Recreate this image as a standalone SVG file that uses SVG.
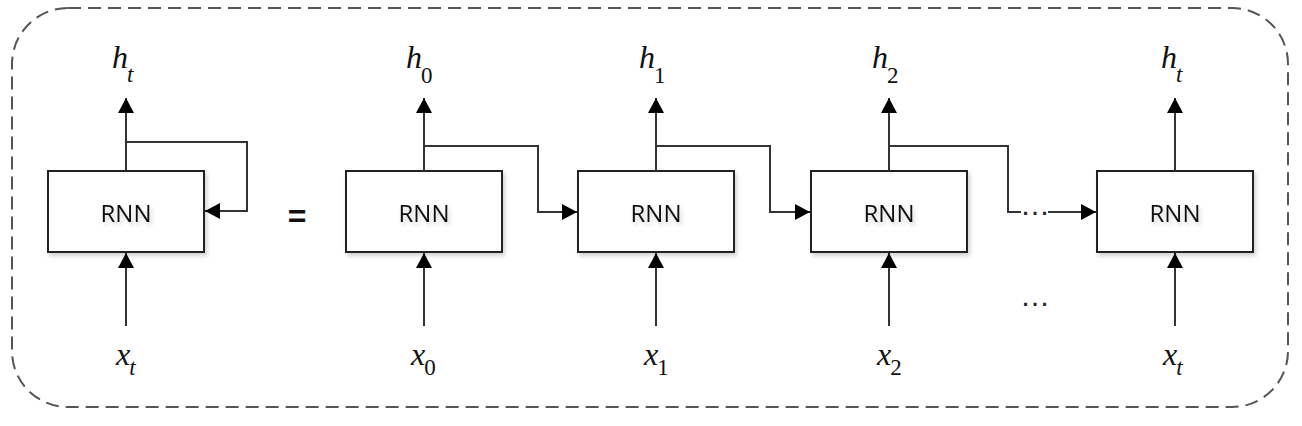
<svg xmlns="http://www.w3.org/2000/svg" width="1302" height="426" viewBox="0 0 1302 426">
<defs>
<style>
.frame{fill:none;stroke:#555;stroke-width:2;stroke-dasharray:13 7}
.box{fill:#fff;stroke:#222;stroke-width:2}
.lbl{font-family:"Open Sans","Liberation Sans",sans-serif;font-size:24px;fill:#111;text-anchor:middle}
.conn{fill:none;stroke:#333;stroke-width:2}
.var{font-family:"Liberation Serif",serif;font-style:italic;font-size:32px;fill:#111}
.sub{font-size:23px}
.num{font-style:normal}
.dots{font-family:"Liberation Sans",sans-serif;font-size:30px;fill:#222;text-anchor:middle}
</style>
<filter id="sh" x="-10%" y="-10%" width="130%" height="140%">
<feDropShadow dx="2" dy="3" stdDeviation="2" flood-color="#000" flood-opacity="0.18"/>
</filter>
<marker id="arr" markerUnits="userSpaceOnUse" markerWidth="16" markerHeight="17" refX="15" refY="8" orient="auto">
<path d="M0,0 L15,8 L0,16 Z" fill="#000"/>
</marker>
</defs>
<rect class="frame" x="12" y="8" width="1276" height="399" rx="56" ry="56"/>

<g id="node-rnn-folded">
<rect class="box" x="48" y="171" width="156" height="81" filter="url(#sh)"/>
<text class="lbl" x="126" y="222" filter="url(#sh)">RNN</text>
</g>
<g id="node-rnn-0">
<rect class="box" x="346" y="171" width="156" height="81" filter="url(#sh)"/>
<text class="lbl" x="424" y="222" filter="url(#sh)">RNN</text>
</g>
<g id="node-rnn-1">
<rect class="box" x="578" y="171" width="156" height="81" filter="url(#sh)"/>
<text class="lbl" x="656" y="222" filter="url(#sh)">RNN</text>
</g>
<g id="node-rnn-2">
<rect class="box" x="811" y="171" width="156" height="81" filter="url(#sh)"/>
<text class="lbl" x="889" y="222" filter="url(#sh)">RNN</text>
</g>
<g id="node-rnn-t">
<rect class="box" x="1097" y="171" width="156" height="81" filter="url(#sh)"/>
<text class="lbl" x="1175" y="222" filter="url(#sh)">RNN</text>
</g>

<g id="connectors">
<line class="conn" x1="126" y1="171" x2="126" y2="98" marker-end="url(#arr)"/>
<line class="conn" x1="424" y1="171" x2="424" y2="98" marker-end="url(#arr)"/>
<line class="conn" x1="656" y1="171" x2="656" y2="98" marker-end="url(#arr)"/>
<line class="conn" x1="889" y1="171" x2="889" y2="98" marker-end="url(#arr)"/>
<line class="conn" x1="1175" y1="171" x2="1175" y2="98" marker-end="url(#arr)"/>
<line class="conn" x1="126" y1="326" x2="126" y2="253" marker-end="url(#arr)"/>
<line class="conn" x1="424" y1="326" x2="424" y2="253" marker-end="url(#arr)"/>
<line class="conn" x1="656" y1="326" x2="656" y2="253" marker-end="url(#arr)"/>
<line class="conn" x1="889" y1="326" x2="889" y2="253" marker-end="url(#arr)"/>
<line class="conn" x1="1175" y1="326" x2="1175" y2="253" marker-end="url(#arr)"/>
<polyline class="conn" points="126,142 247,142 247,211 205,211" marker-end="url(#arr)"/>
<polyline class="conn" points="424,146 538,146 538,212 577,212" marker-end="url(#arr)"/>
<polyline class="conn" points="656,146 770,146 770,212 810,212" marker-end="url(#arr)"/>
<polyline class="conn" points="889,146 1008,146 1008,212 1021,212"/>
<line class="conn" x1="1048" y1="212" x2="1096" y2="212" marker-end="url(#arr)"/>
<text class="dots" x="1035" y="215">…</text>
</g>

<text x="297" y="227" font-family="Liberation Sans, sans-serif" font-weight="bold" font-size="32" fill="#111" text-anchor="middle">=</text>
<text class="dots" x="1035" y="306">…</text>

<text class="var" x="112" y="68">h<tspan class="sub" dx="-1" dy="14">t</tspan></text>
<text class="var" x="406" y="68">h<tspan class="sub num" dx="-1" dy="15">0</tspan></text>
<text class="var" x="639" y="68">h<tspan class="sub num" dx="-1" dy="15">1</tspan></text>
<text class="var" x="872" y="68">h<tspan class="sub num" dx="-1" dy="15">2</tspan></text>
<text class="var" x="1161" y="68">h<tspan class="sub" dx="-1" dy="14">t</tspan></text>

<text class="var" x="116" y="365">x<tspan class="sub" dx="-1" dy="10">t</tspan></text>
<text class="var" x="411" y="365">x<tspan class="sub num" dx="-1" dy="10">0</tspan></text>
<text class="var" x="644" y="365">x<tspan class="sub num" dx="-1" dy="10">1</tspan></text>
<text class="var" x="877" y="365">x<tspan class="sub num" dx="-1" dy="10">2</tspan></text>
<text class="var" x="1163" y="365">x<tspan class="sub" dx="-1" dy="10">t</tspan></text>
</svg>
